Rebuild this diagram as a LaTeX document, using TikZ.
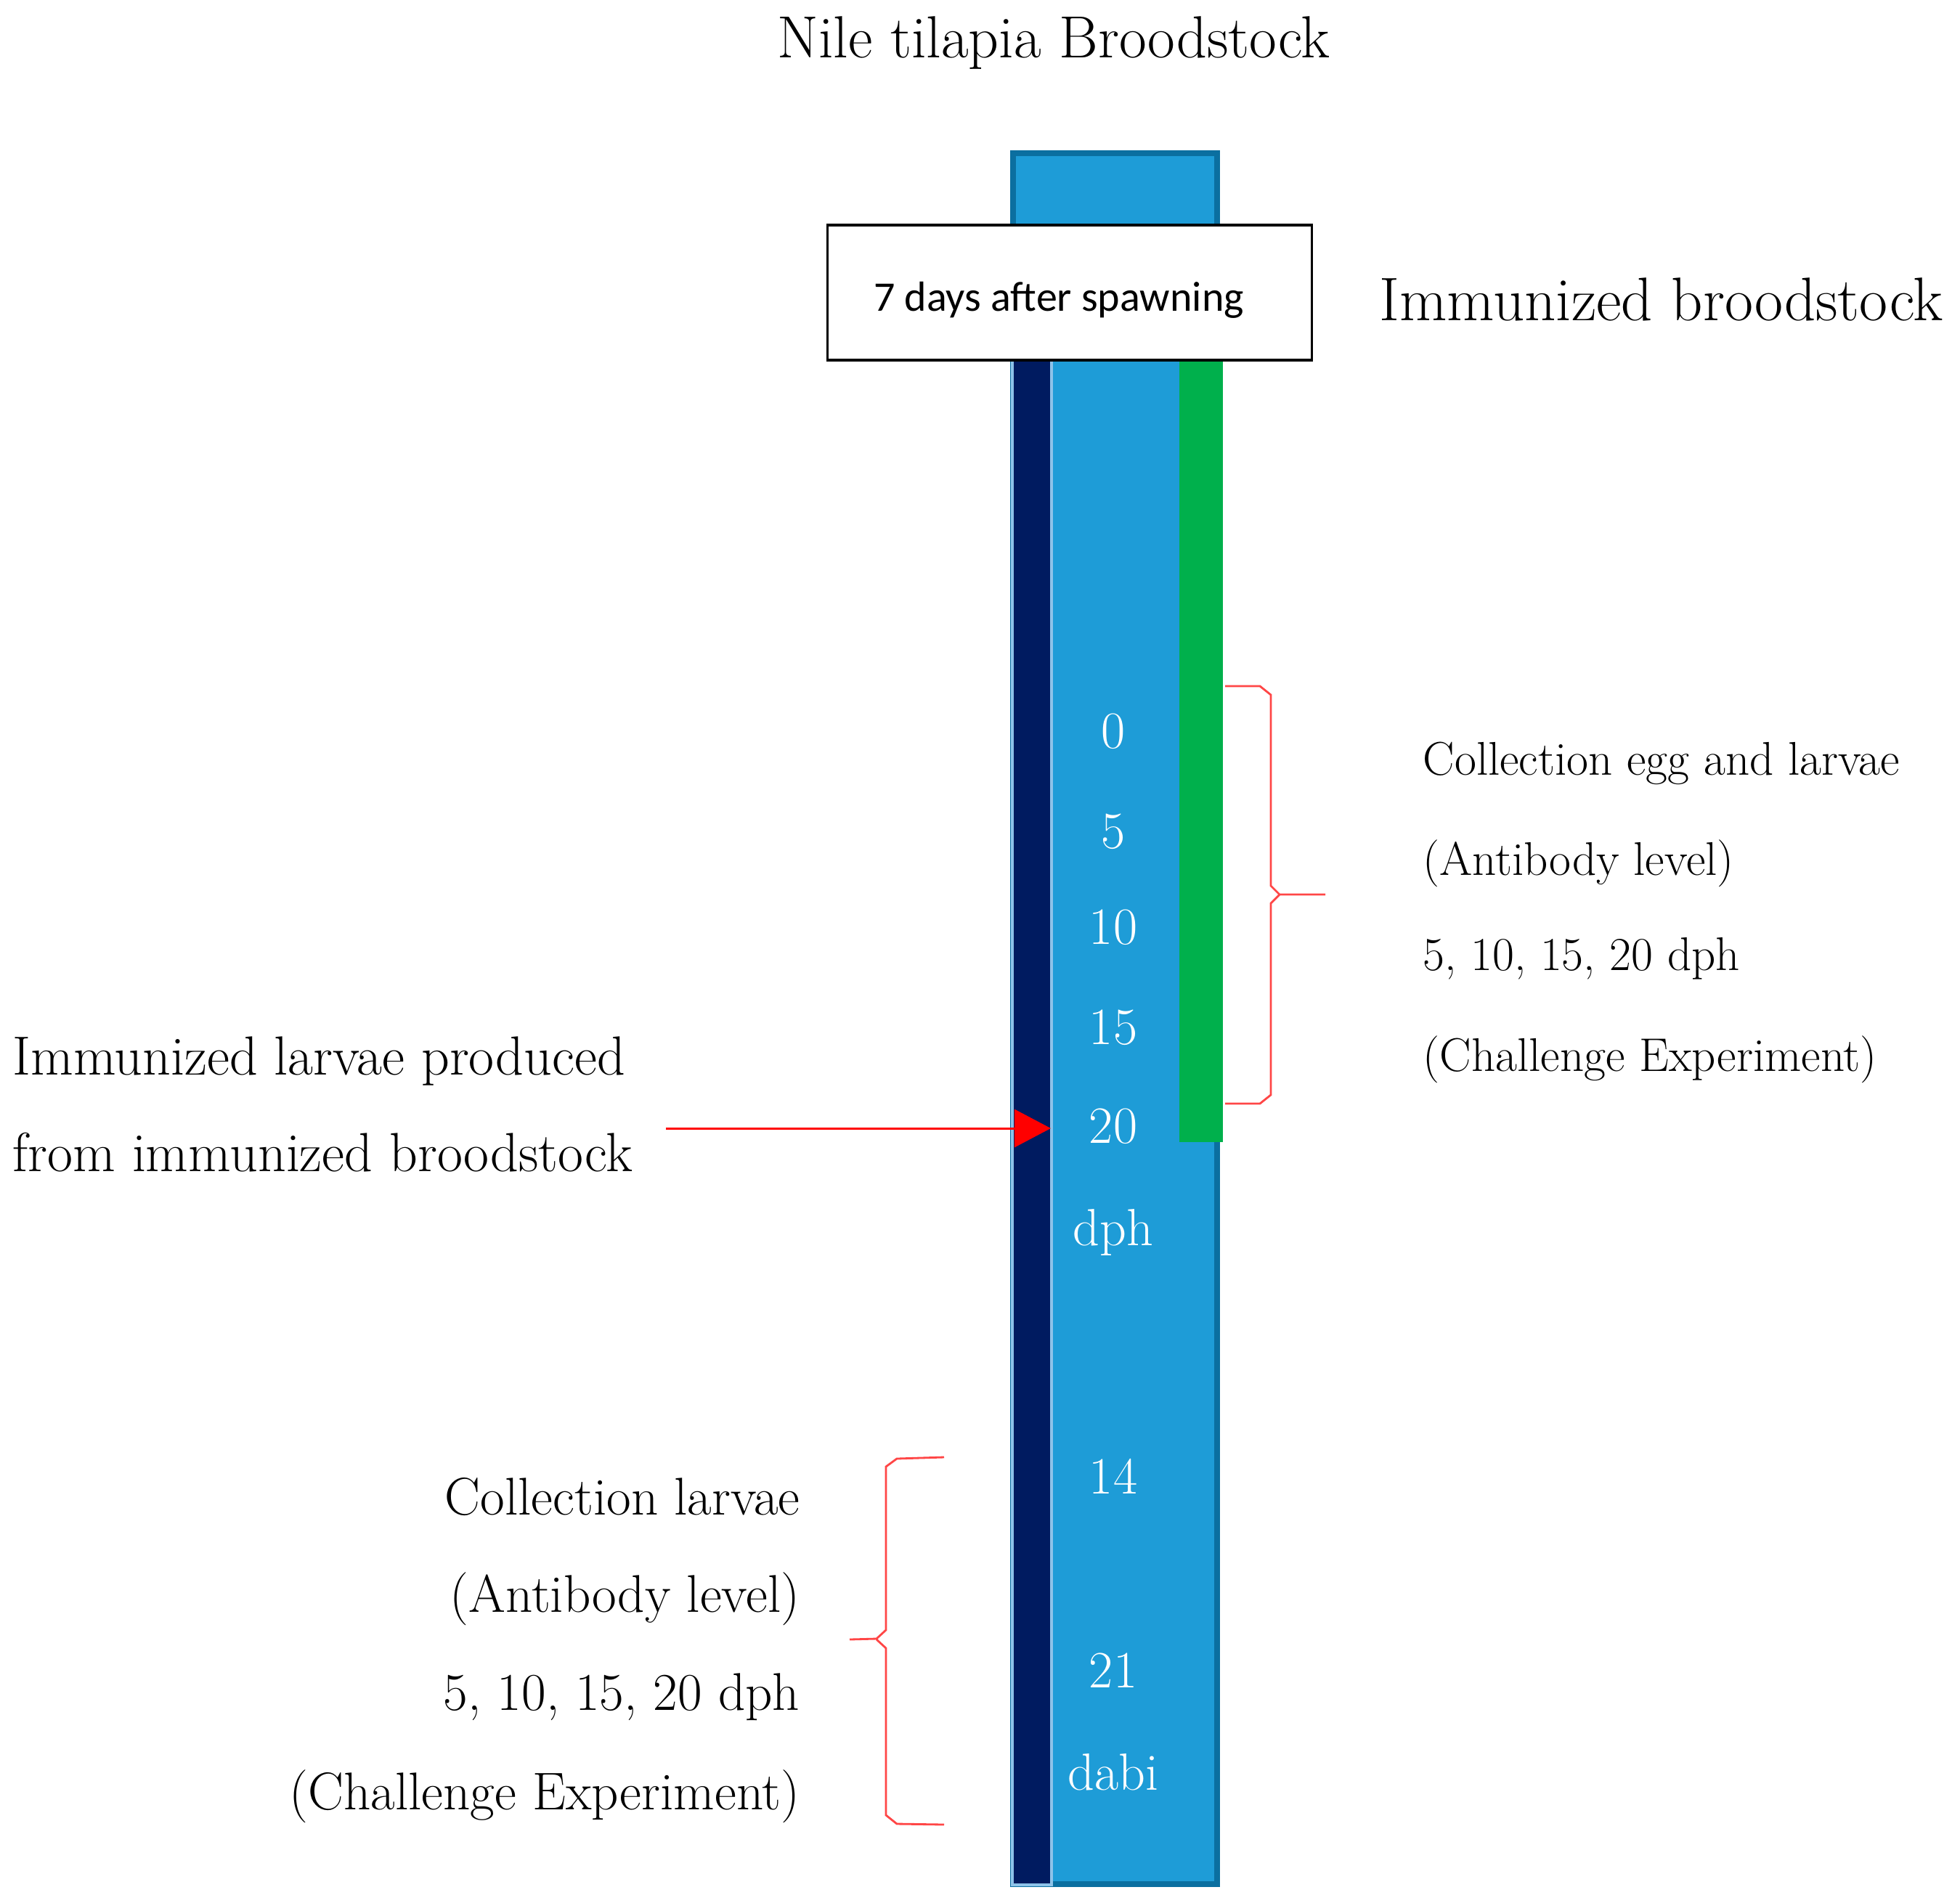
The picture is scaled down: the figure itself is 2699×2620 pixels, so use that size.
\documentclass[tikz,border=0pt]{standalone}
\usepackage{fontspec}
\usepackage{tikz}
\usetikzlibrary{arrows.meta}
\newfontfamily\boxfont{Carlito}
\definecolor{barblue}{RGB}{30,156,215}
\definecolor{baredge}{RGB}{11,111,160}
\definecolor{navystrip}{RGB}{0,27,96}
\definecolor{navyedge}{RGB}{141,195,233}
\definecolor{greenstrip}{RGB}{0,176,76}
\definecolor{bracered}{RGB}{255,70,70}

\begin{document}
\begin{tikzpicture}[x=0.01cm, y=-0.01cm,
			txt/.style={inner sep=0pt, font=\fontsize{21.6}{26}\selectfont},
			daynum/.style={inner sep=0pt, anchor=base, text=white, font=\fontsize{20.5}{24}\selectfont},
			sidenote/.style={inner sep=0pt, anchor=base west, font=\fontsize{18.5}{22}\selectfont},
			brace/.style={draw=bracered, line width=0.8pt}
			]
			\useasboundingbox (0,0) rectangle (2699,2620);

			% Título
			\node[txt, anchor=base, font=\fontsize{23.3}{28}\selectfont] (title) at (1451,79) {Nile tilapia Broodstock};

			% Columna principal y franjas
			\draw[draw=baredge, fill=barblue, line width=0.08cm] (1395,211) rectangle (1676,2595);
			\draw[draw=navyedge, fill=navystrip, line width=0.04cm] (1394,496) rectangle (1448,2596);
			\fill[greenstrip] (1624,496) rectangle (1684,1573);

			% Caja superior
			\node[draw, fill=white, line width=1pt, minimum width=6.67cm, minimum height=1.86cm] (spawn) at (1473,403) {};
			\node[inner sep=0pt, anchor=base, font=\boxfont\fontsize{16.5}{20}\selectfont] (spawntext) at (1458,428) {7 days after spawning};
			\node[txt, anchor=base west, font=\fontsize{24.1}{29}\selectfont] (broodstock) at (1899,441) {Immunized broodstock};

			% Días dentro de la columna
			\foreach \num/\ypos in {0/1030, 5/1168, 10/1300, 15/1438, 20/1574, dph/1715, 14/2057, 21/2324, dabi/2465}
				\node[daynum] (d\num) at (1533,\ypos) {\num};

			% Notas a la derecha
			\foreach \line/\ypos [count=\i] in {Collection egg and larvae/1067, (Antibody level)/1205, {5, 10, 15, 20 dph}/1336, (Challenge Experiment)/1475}
				\node[sidenote] (eggnote\i) at (1959,\ypos) {\line};

			% Notas a la izquierda
			\node[txt, anchor=base west] (larvae1) at (17,1480) {Immunized larvae produced};
			\node[txt, anchor=base west] (larvae2) at (17,1613) {from immunized broodstock};
			\foreach \line/\ypos [count=\i] in {Collection larvae/2086, (Antibody level)/2220, {5, 10, 15, 20 dph}/2355, (Challenge Experiment)/2492}
				\node[txt, anchor=base east, font=\fontsize{20.8}{25}\selectfont] (larvnote\i) at (1102,\ypos) {\line};

			% Flecha
			\coordinate (arrtail) at (917,1554);
			\coordinate (arrtip) at (1447,1554);
			\draw[red, line width=0.03cm, -{Triangle[length=0.5cm, width=0.52cm]}] (arrtail) -- (arrtip);

			% Llaves
			\draw[brace] (1687,945) -- (1735,945) -- (1750,957) -- (1750,1220) -- (1762,1232) -- (1825,1232)
				(1762,1232) -- (1750,1244) -- (1750,1508) -- (1735,1520) -- (1687,1520);
			\draw[brace] (1300,2007) -- (1235,2009) -- (1220,2020) -- (1220,2245) -- (1207,2257) -- (1170,2258)
				(1207,2258) -- (1220,2270) -- (1220,2500) -- (1235,2512) -- (1300,2513);
		\end{tikzpicture}
\end{document}
